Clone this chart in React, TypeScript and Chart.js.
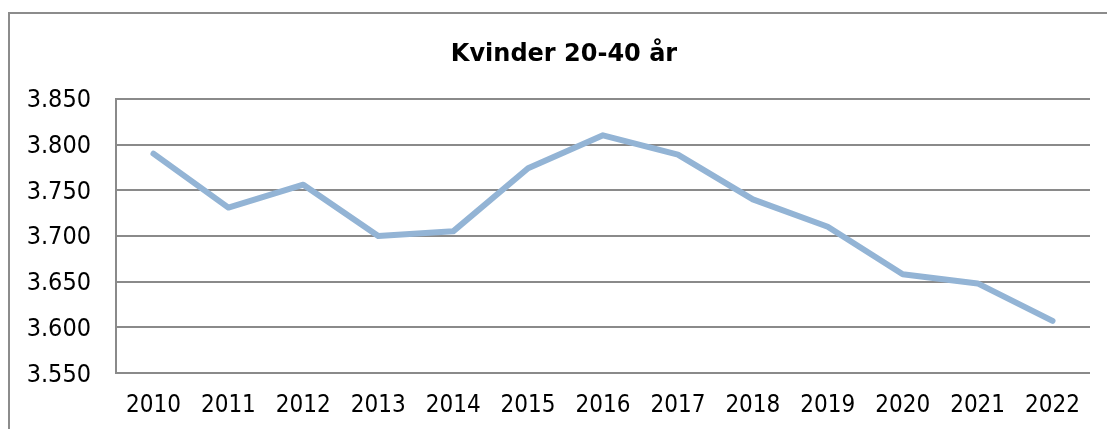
import React, { useEffect, useRef } from "react";
import { Chart, registerables } from "chart.js";

Chart.register(...registerables);

const years: string[] = ["2010","2011","2012","2013","2014","2015","2016","2017","2018","2019","2020","2021","2022"];
const women2040: number[] = [3790, 3731, 3756, 3700, 3705, 3774, 3810, 3789, 3740, 3710, 3658, 3648, 3607];
const yMin = 3550;
const yMax = 3850;
const yStep = 50;
const chartTitle = "Kvinder 20-40 år";

const fmt = (v: number) => {
  const n = Math.round(v);
  return `${Math.floor(n / 1000)}.${String(n % 1000).padStart(3, "0")}`;
};

const framePlugin = {
  id: "frame",
  beforeDraw(chart: any) {
    const ctx = chart.ctx;
    ctx.save();
    ctx.fillStyle = "#ffffff";
    ctx.fillRect(0, 0, chart.width, chart.height);
    ctx.strokeStyle = "#8c8c8c";
    ctx.lineWidth = 2;
    ctx.strokeRect(9, 13, chart.width + 20, chart.height + 20);
    ctx.restore();
  },
};

export default function App() {
  const ref = useRef<HTMLCanvasElement | null>(null);
  useEffect(() => {
    if (!ref.current) return;
    const font = "'DejaVu Sans Condensed', 'DejaVu Sans', sans-serif";
    const chart = new Chart(ref.current, {
      type: "line",
      data: {
        labels: years,
        datasets: [
          {
            data: women2040,
            borderColor: "#93b4d5",
            borderWidth: 6,
            pointRadius: 0,
            tension: 0,
            borderCapStyle: "round",
            borderJoinStyle: "round",
          },
        ],
      },
      options: {
        responsive: false,
        animation: false,
        layout: { padding: { left: 38, right: 17, top: 20, bottom: 0 } },
        plugins: {
          legend: { display: false },
          tooltip: { enabled: false },
          title: {
            display: true,
            text: chartTitle,
            color: "#000000",
            font: { family: "'DejaVu Sans', sans-serif", size: 24, weight: "bold" },
            padding: { top: 20, bottom: 30 },
          },
        },
        scales: {
          x: {
            offset: true,
            grid: { display: false, drawTicks: false },
            border: { display: false },
            ticks: {
              color: "#000000",
              font: { family: font, size: 24 },
              padding: 18,
              maxRotation: 0,
              autoSkip: false,
            },
            afterFit: (s: any) => { s.height = 56; },
          },
          y: {
            min: yMin,
            max: yMax,
            grid: { color: "#8a8a8a", lineWidth: 2, drawTicks: false },
            border: { display: true, color: "#8a8a8a", width: 2 },
            ticks: {
              stepSize: yStep,
              color: "#000000",
              font: { family: font, size: 25 },
              padding: 25,
              labelOffset: 2,
              callback: (v: any) => fmt(Number(v)),
            },
            afterFit: (s: any) => {
              s.width = 78;
              s._computeLabelArea = () => undefined;
            },
          },
        },
      },
      plugins: [framePlugin],
    });
    return () => chart.destroy();
  }, []);
  return (
    <div style={{ position: "fixed", left: 0, top: 0, width: 1107, height: 429 }}>
      <canvas ref={ref} width={1107} height={429} />
    </div>
  );
}
